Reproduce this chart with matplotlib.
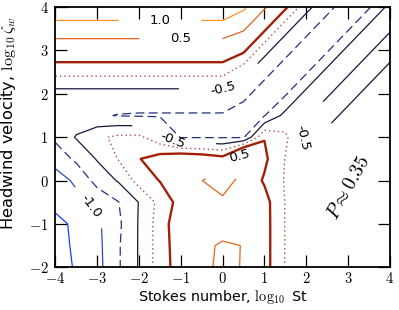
import numpy as np
import matplotlib
matplotlib.use('Agg')
import matplotlib.pyplot as plt
from matplotlib.ticker import FuncFormatter

plt.rcParams['mathtext.fontset'] = 'cm'

# grid of the contoured field
log_st = np.arange(-4, 4.01, 0.5)      # 17 columns
log_zeta = np.arange(-2, 4.01, 0.5)    # 13 rows

# values, rows from log zeta = 4 (top) down to -2
rows_top_down = [
    [1.4, 1.4, 1.4, 1.4, 1.4, 1.4, 1.4, 1.4, 1.4, 1.08, 0.55, 0.05, -0.42, -0.7, -0.84, -0.78, -0.42],
    [0.75, 0.75, 0.75, 0.75, 0.75, 0.75, 0.75, 0.75, 0.75, 0.55, 0.05, -0.42, -0.7, -0.84, -0.78, -0.42, -0.48],
    [0.2, 0.2, 0.2, 0.2, 0.2, 0.2, 0.2, 0.2, 0.2, 0.05, -0.42, -0.7, -0.84, -0.78, -0.42, -0.48, -0.6],
    [-0.17, -0.17, -0.17, -0.17, -0.17, -0.17, -0.17, -0.17, -0.17, -0.42, -0.7, -0.84, -0.78, -0.42, -0.48, -0.6, -0.42],
    [-0.6, -0.6, -0.6, -0.6, -0.6, -0.6, -0.6, -0.6, -0.6, -0.7, -0.84, -0.78, -0.42, -0.48, -0.6, -0.42, -0.4],
    [-0.62, -0.65, -0.72, -0.76, -0.77, -0.77, -0.77, -0.77, -0.77, -0.84, -0.76, -0.42, -0.48, -0.6, -0.42, -0.4, -0.38],
    [-0.7, -0.48, -0.3, -0.2, -0.2, -0.42, -0.77, -0.77, -0.77, -0.78, -0.01, -0.2, -0.58, -0.42, -0.4, -0.38, -0.38],
    [-0.9, -0.7, -0.48, -0.24, -0.01, 0.12, 0.25, 0.2, 0.1, 0.88, 0.05, -0.26, -0.4, -0.4, -0.38, -0.37, -0.36],
    [-1.12, -0.95, -0.66, -0.48, -0.15, 0.01, 0.3, 0.49, 0.9, 0.2, -0.03, -0.27, -0.38, -0.38, -0.37, -0.36, -0.35],
    [-1.18, -1.08, -0.93, -0.76, -0.49, -0.17, 0.1, 0.3, 0.33, 0.3, 0.095, -0.26, -0.38, -0.37, -0.36, -0.35, -0.35],
    [-1.32, -1.2, -1.05, -0.8, -0.48, -0.13, 0.18, 0.3, 0.2, 0.3, 0.1, -0.26, -0.38, -0.37, -0.36, -0.35, -0.34],
    [-1.36, -1.2, -1.07, -0.78, -0.48, -0.13, 0.15, 0.36, 0.58, 0.485, 0.1, -0.26, -0.38, -0.37, -0.36, -0.35, -0.34],
    [-1.38, -1.22, -1.08, -0.78, -0.48, -0.13, 0.13, 0.35, 0.63, 0.47, 0.1, -0.26, -0.4, -0.38, -0.37, -0.36, -0.35],
]
Z = np.flipud(np.array(rows_top_down))

# labelled levels and the plain ones are drawn as two sets
lab_levels = [-1.0, -0.5, 0.5, 1.0]
lab_colors = ['#2e44c8', '#16163e', '#e2661a', '#ff9224']
plain_levels = [-1.25, -0.75, -0.25, 0.0]
plain_colors = ['#1a3cff', '#23307e', '#b04a4a', '#a32008']
plain_widths = [0.9, 0.9, 1.0, 1.7]
plain_styles = ['solid', (0, (7, 3.6)), (0, (1, 2.2)), 'solid']

fig = plt.figure(figsize=(3.99, 3.10), dpi=100)
ax = fig.add_axes([0.139, 0.138, 0.838, 0.839])
ax.set_xlim(-4, 4)
ax.set_ylim(-2, 4)

X, Y = np.meshgrid(log_st, log_zeta)
ax.contour(X, Y, Z, levels=plain_levels, colors=plain_colors,
           linewidths=plain_widths, linestyles=plain_styles)
cs = ax.contour(X, Y, Z, levels=lab_levels, colors=lab_colors,
                linewidths=0.9, linestyles='solid')

# label spots (data coords), wide gaps as in the original
wide_spots = [(-1.5, 3.69), (-1.0, 3.27), (0.0, 2.12), (-1.2, 0.93),
              (0.4, 0.58), (1.92, 0.98)]
ax.clabel(cs, manual=wide_spots, inline=True, inline_spacing=31,
          fmt='%.1f', fontsize=9.5, colors='k')
ax.clabel(cs, manual=[(-3.15, -0.6)], inline=True, inline_spacing=12,
          fmt='%.1f', fontsize=9.5, colors='k')

ax.text(3.0, -0.17, r'$P \approx 0.35$', rotation=61, fontsize=14,
        ha='center', va='center')

ax.set_xticks(range(-4, 5))
ax.set_yticks(range(-2, 5))
fmt = FuncFormatter(lambda v, p: f'${v:.0f}$')
ax.xaxis.set_major_formatter(fmt)
ax.yaxis.set_major_formatter(fmt)
ax.tick_params(direction='in', length=8.5, width=0.9, top=True, right=True,
               labelsize=10.5)
ax.tick_params(axis='x', pad=3)
ax.tick_params(axis='y', pad=5)
for s in ax.spines.values():
    s.set_linewidth(1.3)

ax.set_xlabel(r'Stokes number, $\log_{10}$ St', fontsize=10.3)
ax.set_ylabel(r'Headwind velocity, $\log_{10}\zeta_w$', fontsize=11.7)
ax.xaxis.set_label_coords(0.5, -0.08)
ax.yaxis.set_label_coords(-0.112, 0.552)

fig.savefig('out.png', dpi=100)
